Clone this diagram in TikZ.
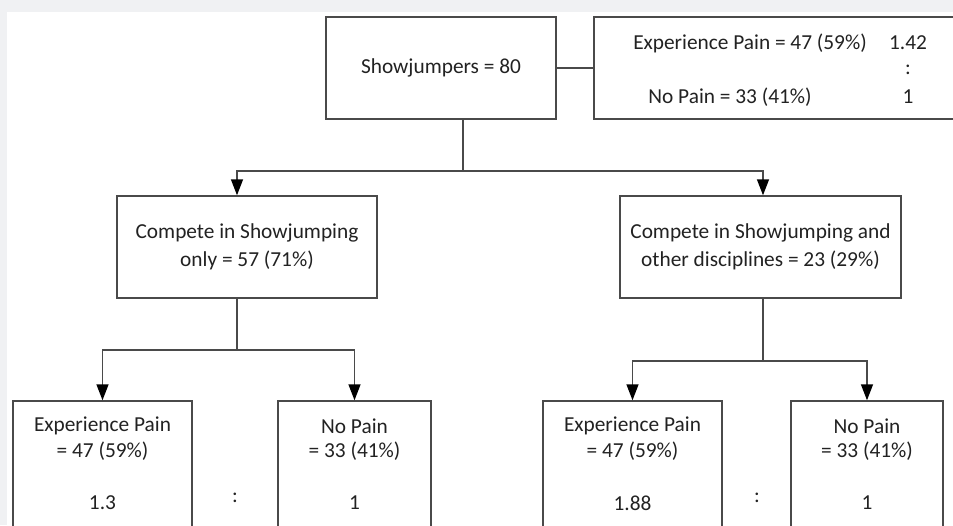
\documentclass[tikz,border=0pt]{standalone}
\usepackage{fontspec}
\setmainfont{Carlito}
\usepackage{tikz}
\usetikzlibrary{arrows.meta}
\definecolor{bggray}{HTML}{F0F1F3}
\definecolor{linegray}{HTML}{4A4A4A}
\definecolor{textgray}{HTML}{222222}

\begin{document}
\begin{tikzpicture}[x=0.75pt,y=-0.75pt,
	box/.style={draw=linegray,line width=1.1pt,fill=white,inner sep=0pt,text=textgray,align=center,font=\fontsize{16}{20}\selectfont},
	lbl/.style={inner sep=0pt,text=textgray,font=\fontsize{16}{20}\selectfont},
	arr/.style={-{Triangle[length=12pt,width=9pt,color=black]},draw=linegray,line width=1.1pt},
	conn/.style={draw=linegray,line width=1.1pt}]
	\clip (0,0) rectangle (953,525);
	%background
	\fill[bggray] (0,0) rectangle (953,525);
	\fill[white] (7,12) rectangle (953,525);
	
	%boxes
	\node[box,minimum width=172.5pt,minimum height=76.5pt] (total) at (441,68) {Showjumpers = 80};
	\node[box,minimum width=274.5pt,minimum height=76.5pt] (ratio) at (777,68) {};
	\node[box,minimum width=195pt,minimum height=76.5pt] (sjonly) at (247,247) {Compete in Showjumping\\[1pt] only = 57 (71\%)};
	\node[box,minimum width=210.75pt,minimum height=76.5pt] (sjother) at (760.5,247) {Compete in Showjumping and\\[1pt] other disciplines = 23 (29\%)};
	\node[box,minimum width=134.25pt,minimum height=108pt] (sjpain) at (102.5,473) {};
	\node[box,minimum width=114.75pt,minimum height=108pt] (sjnopain) at (354.5,473) {};
	\node[box,minimum width=134.25pt,minimum height=108pt] (otpain) at (632.5,473) {};
	\node[box,minimum width=114pt,minimum height=108pt] (otnopain) at (867,473) {};
	
	%ratio box labels
	\node[lbl] (allpain) at (750,43) {Experience Pain = 47 (59\%)};
	\node[lbl] (allnopain) at (730,97) {No Pain = 33 (41\%)};
	\node[lbl] (allratioa) at (908,43) {1.42};
	\node[lbl] (allcolon) at (908,70) {:};
	\node[lbl] (allratiob) at (908,97) {1};
	
	%bottom labels
	\node[lbl] (sjpaina) at (102.5,426) {Experience Pain};
	\node[lbl] (sjpainb) at (102.5,451) {= 47 (59\%)};
	\node[lbl] (sjpainc) at (102.5,503) {1.3};
	\node[lbl] (sjcolon) at (235,498) {:};
	\node[lbl] (sjnopaina) at (354.5,426) {No Pain};
	\node[lbl] (sjnopainb) at (354.5,451) {= 33 (41\%)};
	\node[lbl] (sjnopainc) at (354.5,503) {1};
	%
	\node[lbl] (otpaina) at (632.5,426) {Experience Pain};
	\node[lbl] (otpainb) at (632.5,451) {= 47 (59\%)};
	\node[lbl] (otpainc) at (632.5,503) {1.88};
	\node[lbl] (otcolon) at (757,498) {:};
	\node[lbl] (otnopaina) at (867,426) {No Pain};
	\node[lbl] (otnopainb) at (867,451) {= 33 (41\%)};
	\node[lbl] (otnopainc) at (867,503) {1};
	
	%connectors
	\coordinate (split1) at (463,171);
	\coordinate (split2) at (237,350);
	\coordinate (split3) at (763,361);
	\draw[conn] (total.east) -- (ratio.west);
	\draw[conn] (total.south -| split1) -- (split1);
	\draw[arr] (split1) -| (sjonly.north -| split2);
	\draw[arr] (split1) -| (sjother.north -| split3);
	\draw[conn] (sjonly.south -| split2) -- (split2);
	\draw[arr] (split2) -| (sjpain.north);
	\draw[arr] (split2) -| (sjnopain.north);
	\draw[conn] (sjother.south -| split3) -- (split3);
	\draw[arr] (split3) -| (otpain.north);
	\draw[arr] (split3) -| (otnopain.north);
\end{tikzpicture}
\end{document}
